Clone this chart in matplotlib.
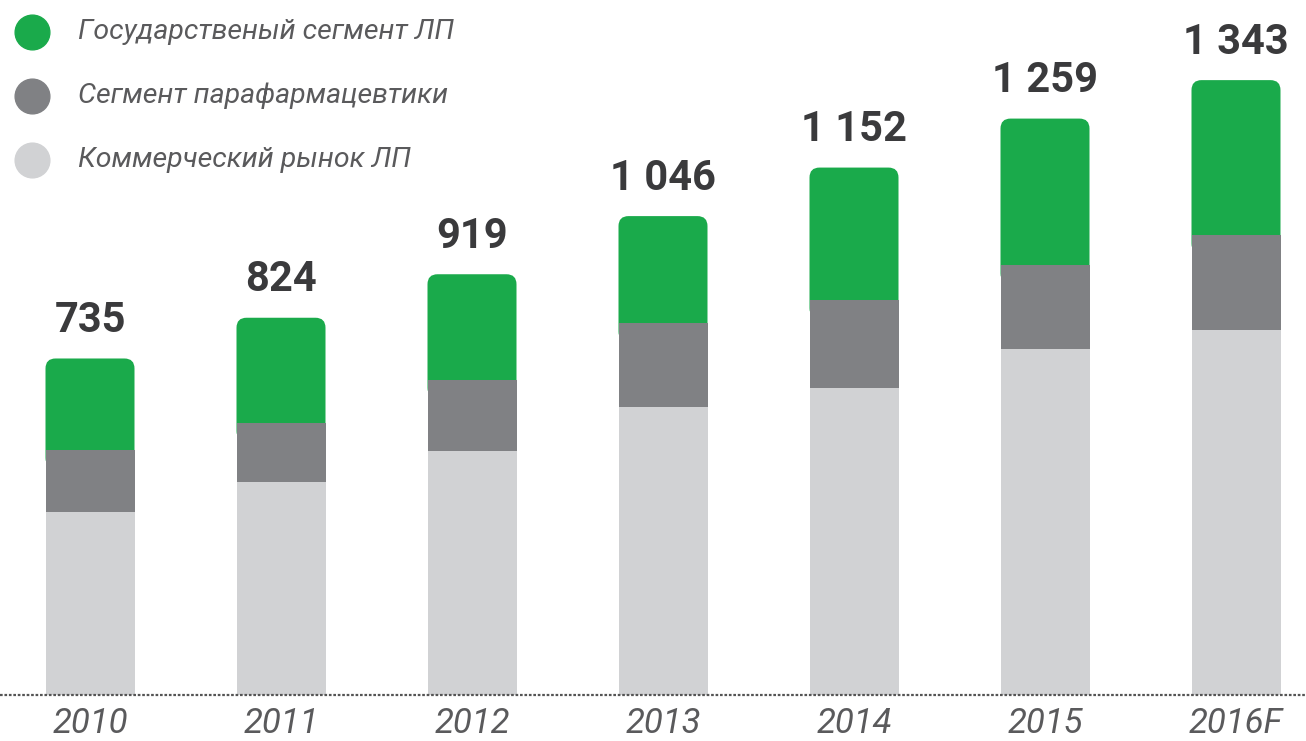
import matplotlib
matplotlib.use("Agg")
import matplotlib.pyplot as plt
from matplotlib.patches import FancyBboxPatch

# ==== DATA ====
years = ["2010", "2011", "2012", "2013", "2014", "2015", "2016F"]
commercial = [400, 465, 532, 630, 670, 756, 797]     # Коммерческий рынок ЛП
parapharm = [136, 130, 157, 182, 193, 183, 207]      # Сегмент парафармацевтики
state = [199, 229, 230, 234, 289, 320, 339]          # Государственый сегмент ЛП
totals = [735, 824, 919, 1046, 1152, 1259, 1343]

labels = ["Государственый сегмент ЛП", "Сегмент парафармацевтики", "Коммерческий рынок ЛП"]

GREEN = "#1aaa4b"
GRAY = "#808184"
LIGHT = "#d1d2d4"
DARK = "#3a3a3c"
TXT = "#5a5a5c"

W, H = 1306, 741
fig = plt.figure(figsize=(W / 100, H / 100), dpi=100)
ax = fig.add_axes([0, 46 / H, 1, 695 / H])

x = list(range(len(years)))
bw = 89 / 191

ax.set_xlim(-90 / 191, (W - 90) / 191)
ax.set_ylim(0, 1518)

bottom2 = commercial
bottom3 = [c + p for c, p in zip(commercial, parapharm)]

ax.bar(x, commercial, width=bw, color=LIGHT, zorder=3)
ax.bar(x, parapharm, width=bw, bottom=bottom2, color=GRAY, zorder=3)
green_bars = ax.bar(x, state, width=bw, bottom=bottom3, color=GREEN, zorder=2)

# rounded top corners for the green segment
px_x = ax.transData.transform((1, 0))[0] - ax.transData.transform((0, 0))[0]
px_y = ax.transData.transform((0, 1))[1] - ax.transData.transform((0, 0))[1]
aspect = px_x / px_y
r = 10 / px_x
extra = 40
for b in green_bars:
    b.set_visible(False)
    ax.add_patch(FancyBboxPatch(
        (b.get_x(), b.get_y() - extra), b.get_width(), b.get_height() + extra,
        boxstyle=f"round,pad=0,rounding_size={r}", mutation_aspect=aspect,
        facecolor=GREEN, edgecolor="none", zorder=2))

# totals above bars
for xi, t in zip(x, totals):
    s = f"{t:,}".replace(",", " ")
    ax.annotate(s, (xi, t), xytext=(0, 19), textcoords="offset points",
                ha="center", va="baseline", fontsize=30, fontweight="bold",
                color=DARK, family=["Roboto", "DejaVu Sans"])

# dotted baseline
ax.axhline(0, color="#555555", lw=1.6, ls=(0, (1.2, 0.8)), zorder=4, clip_on=False)

for s in ax.spines.values():
    s.set_visible(False)
ax.set_yticks([])
ax.set_xticks(x)
ax.set_xticklabels(years, fontsize=25, style="italic", color=TXT, family="Roboto")
ax.tick_params(axis="x", length=0, pad=8)

# legend
for i, (lab, col) in enumerate(zip(labels, [GREEN, GRAY, LIGHT])):
    yy = 1 - (32 + i * 64) / H
    fig.lines.append(plt.Line2D([32 / W], [yy], marker="o", ms=25, color=col,
                                lw=0, transform=fig.transFigure))
    fig.text(78 / W, yy, lab, fontsize=20.5, style="italic", color=TXT,
             va="center", ha="left", family="Roboto")

fig.savefig("out.png", dpi=100)
